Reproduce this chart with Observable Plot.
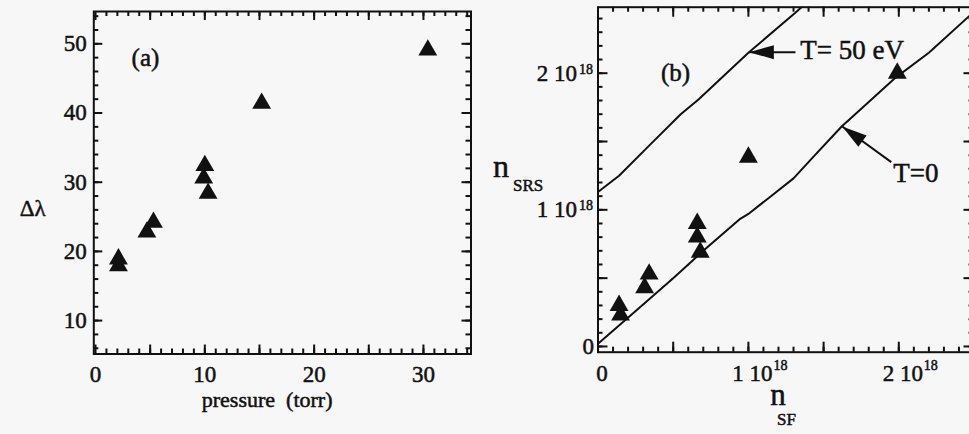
<!DOCTYPE html>
<html>
<head>
<meta charset="utf-8">
<script src="https://cdn.jsdelivr.net/npm/d3@7"></script>
<script src="https://cdn.jsdelivr.net/npm/@observablehq/plot@0.6"></script>
<style>
  html, body { margin: 0; padding: 0; background: #f7f7f7; overflow: hidden; }
  #wrap { position: relative; width: 969px; height: 434px; overflow: hidden; }
  #wrap svg { position: absolute; top: 0; }
</style>
</head>
<body>
<div id="wrap"></div>
<script>
// ---- Panel (a): wavelength shift vs. fill pressure ----
const pressure    = [2.1, 2.1, 4.7, 5.3, 10.0, 9.9, 10.3, 15.2, 30.4];
const deltaLambda = [18.9, 17.9, 22.8, 24.2, 32.4, 30.6, 28.4, 41.4, 49.1];

// ---- Panel (b): SRS density vs. SF density (units of 10^18) ----
const nSF  = [0.14, 0.15, 0.34, 0.31, 0.66, 0.66, 0.68, 1.0, 1.99];
const nSRS = [0.30, 0.23, 0.53, 0.43, 0.90, 0.80, 0.69, 1.385, 2.0];

// Model curves
const t0X  = [0, 0.22, 0.50, 0.70, 0.94, 1.0, 1.15, 1.30, 1.45, 1.62, 1.80, 1.97, 2.20, 2.50];
const t0Y  = [0.02, 0.23, 0.50, 0.70, 0.93, 0.97, 1.10, 1.23, 1.41, 1.61, 1.79, 1.96, 2.15, 2.45];
const t50X = [0, 0.14, 0.34, 0.55, 0.67, 1.0, 1.31, 1.36];
const t50Y = [1.13, 1.25, 1.47, 1.70, 1.81, 2.15, 2.44, 2.49];

// Tick labels
const pressureTicks = [0, 10, 20, 30];
const dlTicks       = [10, 20, 30, 40, 50];
const nTicks        = [0, 1, 2];
const nTickText     = ["0", "1 10", "2 10"];
const nTickExp      = ["", "18", "18"];

const FONT = "Liberation Serif, Times New Roman, serif";
const INK = "#111";
const H = 434;
const T = {fontFamily: FONT, fill: INK, stroke: INK, strokeWidth: 0.5};

// inward ticks on all four sides of a frame (lengths given in pixels)
function frameTicks({xd, yd, innerW, innerH, xMinor, xMajor, yMinor, yMajor, minorLen, majorLen}) {
  const ux = (xd[1] - xd[0]) / innerW;
  const uy = (yd[1] - yd[0]) / innerH;
  const s = {stroke: INK, strokeWidth: 2};
  const vert = (vals, len) => [
    Plot.ruleX(vals, {x: d => d, y1: () => yd[0], y2: () => yd[0] + len * uy, ...s}),
    Plot.ruleX(vals, {x: d => d, y1: () => yd[1], y2: () => yd[1] - len * uy, ...s})
  ];
  const horz = (vals, len) => [
    Plot.ruleY(vals, {y: d => d, x1: () => xd[0], x2: () => xd[0] + len * ux, ...s}),
    Plot.ruleY(vals, {y: d => d, x1: () => xd[1], x2: () => xd[1] - len * ux, ...s})
  ];
  return [...vert(xMinor, minorLen), ...vert(xMajor, majorLen), ...horz(yMinor, minorLen), ...horz(yMajor, majorLen)];
}

// slender filled arrowhead, tip at the origin, pointing along +x
const arrowHead = {
  draw(context) {
    context.moveTo(0, 0);
    context.lineTo(-25, -7);
    context.lineTo(-25, 7);
    context.closePath();
  }
};

// ================= Panel (a) =================
const A = {width: 485, mL: 93.3, mR: 14.5, mT: 11, mB: 80.5, xd: [-0.156, 34.35], yd: [5.17, 54.67]};
const aInnerW = A.width - A.mL - A.mR, aInnerH = H - A.mT - A.mB;

const plotA = Plot.plot({
  width: A.width, height: H,
  marginLeft: A.mL, marginRight: A.mR, marginTop: A.mT, marginBottom: A.mB,
  style: {background: "transparent", color: INK, fontFamily: FONT},
  x: {domain: A.xd, axis: null},
  y: {domain: A.yd, axis: null},
  marks: [
    ...frameTicks({
      xd: A.xd, yd: A.yd, innerW: aInnerW, innerH: aInnerH,
      xMinor: d3.range(1, 35, 1), xMajor: d3.range(0, 35, 5),
      yMinor: d3.range(6, 55, 2), yMajor: d3.range(10, 51, 10),
      minorLen: 5, majorLen: 9
    }),
    Plot.frame({stroke: INK, strokeWidth: 2}),
    Plot.dot(pressure, {x: pressure, y: deltaLambda, symbol: "triangle", r: 7, fill: INK, stroke: "none"}),
    Plot.text(pressureTicks, {x: d => d, text: d => String(d), frameAnchor: "bottom", lineAnchor: "top", dy: 12, fontSize: 23, ...T}),
    Plot.text(dlTicks, {y: d => d, text: d => String(d), frameAnchor: "left", textAnchor: "end", dx: -7, fontSize: 23, ...T}),
    Plot.text(["(a)"], {x: 4.57, y: 48.0, text: d => d, fontSize: 25, ...T}),
    Plot.text(["\u0394\u03bb"], {y: 26.2, frameAnchor: "left", dx: -74, text: d => d, fontSize: 23, ...T}),
    Plot.text(["pressure\u00a0 (torr)"], {x: 15.7, frameAnchor: "bottom", dy: 53, text: d => d, fontSize: 22, ...T})
  ]
});
plotA.style.left = "0px";

// ================= Panel (b) =================
const B = {width: 490, mL: 112.5, mR: 1.5, mT: 6.7, mB: 82.3, xd: [0, 2.5], yd: [-0.042, 2.483]};
const bInnerW = B.width - B.mL - B.mR, bInnerH = H - B.mT - B.mB;
const bx = d3.scaleLinear(B.xd, [B.mL, B.width - B.mR]);
const by = d3.scaleLinear(B.yd, [H - B.mB, B.mT]);

// arrows from each curve label to its curve
const arrows = [
  {tipX: 1.003, tipY: 2.154, tailX: 1.313, tailY: 2.154},
  {tipX: 1.624, tipY: 1.61,  tailX: 1.95,  tailY: 1.349}
].map(a => ({...a, angle: Math.atan2(by(a.tipY) - by(a.tailY), bx(a.tipX) - bx(a.tailX)) * 180 / Math.PI}));

const plotB = Plot.plot({
  width: B.width, height: H,
  marginLeft: B.mL, marginRight: B.mR, marginTop: B.mT, marginBottom: B.mB,
  style: {background: "transparent", color: INK, fontFamily: FONT},
  x: {domain: B.xd, axis: null},
  y: {domain: B.yd, axis: null},
  marks: [
    ...frameTicks({
      xd: B.xd, yd: B.yd, innerW: bInnerW, innerH: bInnerH,
      xMinor: d3.range(1, 25).map(i => i / 10), xMajor: d3.range(0, 5).map(i => i / 2),
      yMinor: d3.range(0, 25).map(i => i / 10), yMajor: d3.range(0, 5).map(i => i / 2),
      minorLen: 5, majorLen: 10
    }),
    Plot.frame({stroke: INK, strokeWidth: 2}),
    Plot.line(t0X, {x: t0X, y: t0Y, stroke: INK, strokeWidth: 2, clip: true}),
    Plot.line(t50X, {x: t50X, y: t50Y, stroke: INK, strokeWidth: 2, clip: true}),
    Plot.dot(nSF, {x: nSF, y: nSRS, symbol: "triangle", r: 7, fill: INK, stroke: "none"}),
    Plot.link(arrows, {x1: "tailX", y1: "tailY", x2: "tipX", y2: "tipY", stroke: INK, strokeWidth: 2}),
    Plot.dot(arrows, {x: "tipX", y: "tipY", symbol: arrowHead, rotate: "angle", fill: INK, stroke: "none"}),
    Plot.text(["T= 50 eV"], {x: 1.345, y: 2.17, textAnchor: "start", text: d => d, fontSize: 27, ...T}),
    Plot.text(["T=0"], {x: 2.114, y: 1.266, text: d => d, fontSize: 27, ...T}),
    Plot.text(["(b)"], {x: 0.515, y: 2.005, text: d => d, fontSize: 25, ...T}),
    // x tick labels with 10^18 exponent
    Plot.text(nTicks, {x: d => d, text: (d, i) => nTickText[i], frameAnchor: "bottom", lineAnchor: "top", dy: 12, dx: 4, fontSize: 23, ...T}),
    Plot.text(nTicks, {x: d => d, text: (d, i) => nTickExp[i], frameAnchor: "bottom", lineAnchor: "top", dy: 8, dx: 25, textAnchor: "start", fontSize: 14, ...T}),
    // y tick labels with 10^18 exponent
    Plot.text(nTicks, {y: d => d, text: (d, i) => nTickText[i], frameAnchor: "left", textAnchor: "end", dx: -21, fontSize: 23, ...T, filter: d => d > 0}),
    Plot.text([0], {y: d => d, text: () => "0", frameAnchor: "left", textAnchor: "end", dx: -4, fontSize: 23, ...T}),
    Plot.text(nTicks, {y: d => d, text: (d, i) => nTickExp[i], frameAnchor: "left", textAnchor: "end", dx: -5, dy: -4, fontSize: 14, ...T}),
    // axis titles
    Plot.text(["n"], {y: 1.317, frameAnchor: "left", dx: -105, text: d => d, fontSize: 32, ...T}),
    Plot.text(["SRS"], {y: 1.177, frameAnchor: "left", dx: -85, text: d => d, fontSize: 17, ...T}),
    Plot.text(["n"], {x: 1.197, frameAnchor: "bottom", dy: 53, text: d => d, fontSize: 31, ...T}),
    Plot.text(["SF"], {x: 1.253, frameAnchor: "bottom", dy: 73, text: d => d, fontSize: 17, ...T})
  ]
});
plotB.style.left = "485px";

const wrap = document.getElementById("wrap");
wrap.append(plotA, plotB);
</script>
</body>
</html>
